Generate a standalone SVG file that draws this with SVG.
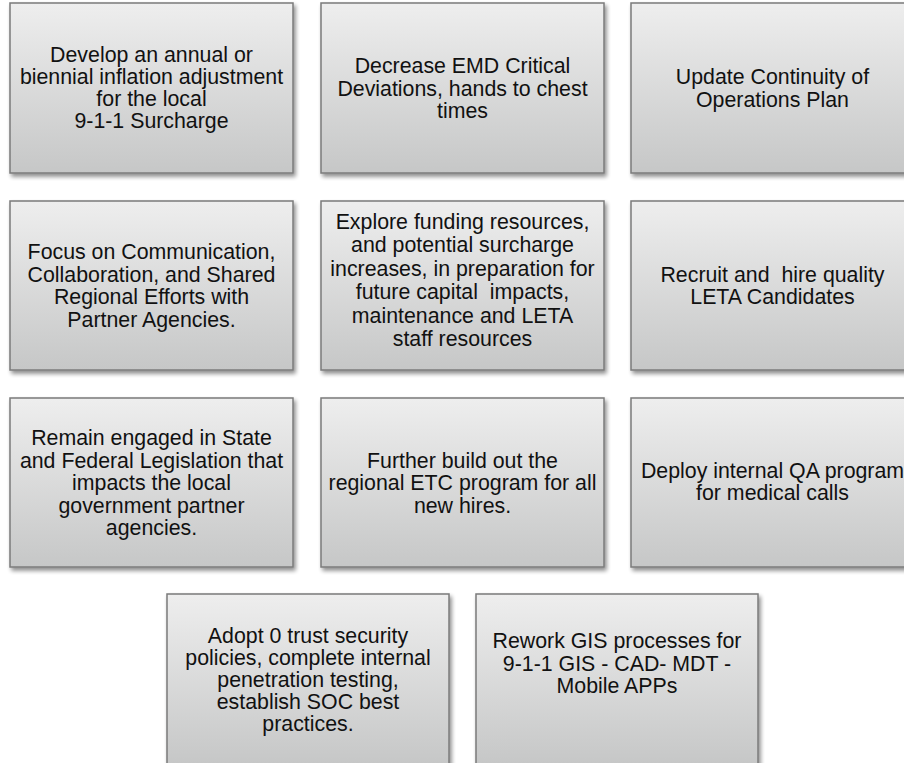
<svg xmlns="http://www.w3.org/2000/svg" width="904" height="763" viewBox="0 0 904 763">
<defs>
<linearGradient id="g" x1="0" y1="0" x2="0" y2="1">
<stop offset="0" stop-color="#eeeeee"/>
<stop offset="1" stop-color="#c6c7c7"/>
</linearGradient>
<filter id="sh" x="-10%" y="-10%" width="125%" height="130%">
<feGaussianBlur in="SourceAlpha" stdDeviation="2"/>
<feOffset dx="2" dy="3" result="b"/>
<feComponentTransfer><feFuncA type="linear" slope="0.45"/></feComponentTransfer>
<feMerge><feMergeNode/><feMergeNode in="SourceGraphic"/></feMerge>
</filter>
<style>
.box{fill:url(#g);stroke:#7b7b7b;stroke-width:1.5;filter:url(#sh)}
.t{font-family:"Liberation Sans",Arial,sans-serif;font-size:21.33px;fill:#111;text-anchor:middle}
</style>
</defs>
<rect width="904" height="763" fill="#ffffff"/>
<g id="connectors"></g>
<g id="n1"><rect class="box" x="10" y="3" width="283" height="170"/>
<text class="t"><tspan x="151.5" y="62">Develop an annual or</tspan><tspan x="151.5" y="84">biennial inflation adjustment</tspan><tspan x="151.5" y="106">for the local</tspan><tspan x="151.5" y="128">9-1-1 Surcharge</tspan></text></g>
<g id="n2"><rect class="box" x="321" y="3" width="283" height="170"/>
<text class="t"><tspan x="462.5" y="73">Decrease EMD Critical</tspan><tspan x="462.5" y="95.5">Deviations, hands to chest</tspan><tspan x="462.5" y="118">times</tspan></text></g>
<g id="n3"><rect class="box" x="631" y="3" width="283" height="170"/>
<text class="t"><tspan x="772.5" y="84.25">Update Continuity of</tspan><tspan x="772.5" y="106.75">Operations Plan</tspan></text></g>
<g id="n4"><rect class="box" x="10" y="201" width="283" height="169"/>
<text class="t"><tspan x="151.5" y="259.25">Focus on Communication,</tspan><tspan x="151.5" y="281.75">Collaboration, and Shared</tspan><tspan x="151.5" y="304.25">Regional Efforts with</tspan><tspan x="151.5" y="326.75">Partner Agencies.</tspan></text></g>
<g id="n5"><rect class="box" x="321" y="201" width="283" height="169"/>
<text class="t"><tspan x="462.5" y="228.5">Explore funding resources,</tspan><tspan x="462.5" y="252">and potential surcharge</tspan><tspan x="462.5" y="275.5">increases, in preparation for</tspan><tspan x="462.5" y="299" xml:space="preserve">future capital  impacts,</tspan><tspan x="462.5" y="322.5">maintenance and LETA</tspan><tspan x="462.5" y="346">staff resources</tspan></text></g>
<g id="n6"><rect class="box" x="631" y="201" width="283" height="169"/>
<text class="t"><tspan x="772.5" y="281.75" xml:space="preserve">Recruit and  hire quality</tspan><tspan x="772.5" y="304.25">LETA Candidates</tspan></text></g>
<g id="n7"><rect class="box" x="10" y="398" width="283" height="169"/>
<text class="t"><tspan x="151.5" y="445">Remain engaged in State</tspan><tspan x="151.5" y="467.5">and Federal Legislation that</tspan><tspan x="151.5" y="490">impacts the local</tspan><tspan x="151.5" y="512.5">government partner</tspan><tspan x="151.5" y="535">agencies.</tspan></text></g>
<g id="n8"><rect class="box" x="321" y="398" width="283" height="169"/>
<text class="t"><tspan x="462.5" y="467.5">Further build out the</tspan><tspan x="462.5" y="490">regional ETC program for all</tspan><tspan x="462.5" y="512.5">new hires.</tspan></text></g>
<g id="n9"><rect class="box" x="631" y="398" width="283" height="169"/>
<text class="t"><tspan x="772.5" y="477.5">Deploy internal QA program</tspan><tspan x="772.5" y="500">for medical calls</tspan></text></g>
<g id="n10"><rect class="box" x="167" y="594" width="282" height="170"/>
<text class="t"><tspan x="308" y="642.5">Adopt 0 trust security</tspan><tspan x="308" y="664.5">policies, complete internal</tspan><tspan x="308" y="686.5">penetration testing,</tspan><tspan x="308" y="708.5">establish SOC best</tspan><tspan x="308" y="730.5">practices.</tspan></text></g>
<g id="n11"><rect class="box" x="476" y="594" width="282" height="170"/>
<text class="t"><tspan x="617" y="648">Rework GIS processes for</tspan><tspan x="617" y="670.5">9-1-1 GIS - CAD- MDT -</tspan><tspan x="617" y="693">Mobile APPs</tspan></text></g>
</svg>
